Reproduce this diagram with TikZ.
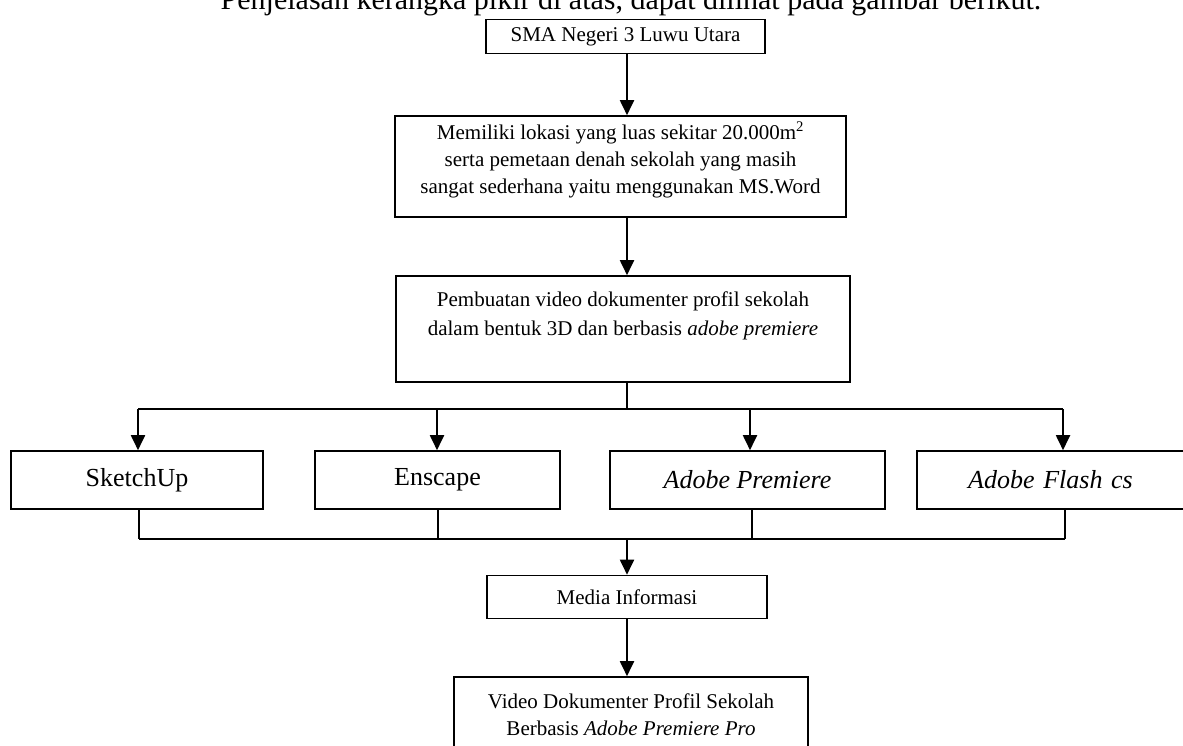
\documentclass[tikz,border=0pt]{standalone}
\usepackage{fontspec}
\setmainfont{Liberation Serif}
\usetikzlibrary{arrows.meta}
\begin{document}
\begin{tikzpicture}[x=1pt,y=-1pt,
  box/.style={draw, line width=1.6pt, align=center, inner sep=0pt, font=\fontsize{21}{27}\selectfont},
  bigbox/.style={box, font=\fontsize{26}{30}\selectfont, minimum height=58pt},
  arr/.style={line width=1.9pt, -{Triangle[length=15pt,width=14pt]}},
  ln/.style={line width=1.7pt}]
\useasboundingbox (0,0) rectangle (1183,746);
\clip (0,0) rectangle (1183,746);
\node[anchor=base, inner sep=0pt, font=\fontsize{30}{34}\selectfont] (intro) at (631,10) {Penjelasan kerangka pikir di atas, dapat dilihat pada gambar berikut.};
\coordinate (sp) at (627,0);
\node[box, minimum width=279pt, minimum height=34pt] (b1) at (625.5,36.5) {SMA Negeri 3 Luwu Utara};
\node[box, minimum width=451pt, minimum height=101pt] (b2) at (620.5,166.5) {Memiliki lokasi yang luas sekitar 20.000m\textsuperscript{2}\\serta pemetaan denah sekolah yang masih\\sangat sederhana yaitu menggunakan MS.Word\\[-9pt]\mbox{}};
\node[box, minimum width=454pt, minimum height=106pt] (b3) at (623,329) {Pembuatan video dokumenter profil sekolah\\[2pt]dalam bentuk 3D dan berbasis \textit{adobe premiere}\\[-4pt]\strut};
\node[bigbox, minimum width=252pt] (s1) at (137,480) {SketchUp};
\node[bigbox, minimum width=245pt] (s2) at (437.5,480) {Enscape};
\node[bigbox, minimum width=275pt] (s3) at (747.5,480) {\textit{Adobe Premiere}};
\node[bigbox, minimum width=273pt, text width=268pt] (s4) at (1053.5,480) {\hspace*{-6pt}\textit{Adobe Flash cs}};
\node[box, minimum width=280pt, minimum height=43pt] (m) at (627,597) {Media Informasi};
\node[box, minimum width=354pt, minimum height=75pt] (f) at (631,714.5) {Video Dokumenter Profil Sekolah\\Berbasis \textit{Adobe Premiere Pro}};
% connectors
\draw[arr] (b1.south -| sp) -- (b2.north -| sp);
\draw[arr] (b2.south -| sp) -- (b3.north -| sp);
\coordinate (bus1) at (627,409);
\coordinate (d1) at (138,409);
\coordinate (d2) at (437,409);
\coordinate (d3) at (750,409);
\coordinate (d4) at (1063,409);
\draw[ln] (b3.south -| sp) -- (bus1);
\draw[ln] (d1) -- (d4);
\draw[arr] (d1) -- (s1.north -| d1);
\draw[arr] (d2) -- (s2.north -| d2);
\draw[arr] (d3) -- (s3.north -| d3);
\draw[arr] (d4) -- (s4.north -| d4);
\coordinate (u1) at (139,539);
\coordinate (u2) at (438,539);
\coordinate (u3) at (752,539);
\coordinate (u4) at (1065,539);
\draw[ln] (s1.south -| u1) -- (u1);
\draw[ln] (s2.south -| u2) -- (u2);
\draw[ln] (s3.south -| u3) -- (u3);
\draw[ln] (s4.south -| u4) -- (u4);
\draw[ln] (u1) -- (u4);
\draw[arr] (u1 -| sp) -- (m.north -| sp);
\draw[arr] (m.south -| sp) -- (f.north -| sp);
\end{tikzpicture}
\end{document}
